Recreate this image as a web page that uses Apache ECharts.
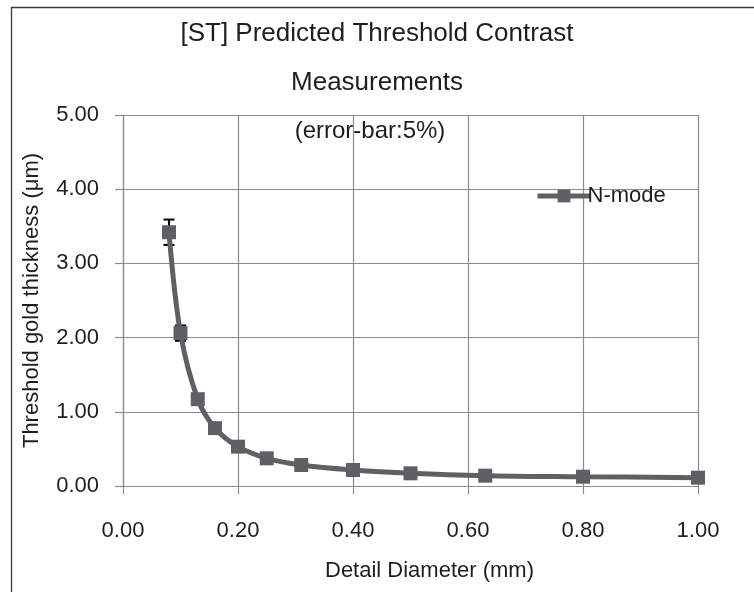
<!DOCTYPE html>
<html>
<head>
<meta charset="utf-8">
<script src="https://cdn.jsdelivr.net/npm/echarts@6/dist/echarts.min.js"></script>
<style>
html,body{margin:0;padding:0;background:#fff;}
#chart{width:754px;height:592px;}
</style>
</head>
<body>
<div id="chart"></div>
<script>
// Data
const diameters = [0.08, 0.10, 0.13, 0.16, 0.20, 0.25, 0.31, 0.40, 0.50, 0.63, 0.80, 1.00];
const thickness = [3.42, 2.06, 1.17, 0.78, 0.53, 0.373, 0.283, 0.216, 0.171, 0.139, 0.125, 0.112];
const errorPct = 0.05; // "(error-bar:5%)"
const xTicks = { min: 0, max: 1, interval: 0.2 };
const yTicks = { min: 0, max: 5, interval: 1 };
const seriesName = 'N-mode';
const titleLines = ['[ST] Predicted Threshold Contrast', 'Measurements'];
const noteText = '(error-bar:5%)';
const xName = 'Detail Diameter (mm)';
const yName = 'Threshold gold thickness (\u03bcm)';

const FONT = '"Liberation Sans", Arial, sans-serif';
const TXT = '#1e1e1e';
const GRIDC = '#8c8c8c';
const LINEC = '#5f6066';

const lineData = diameters.map((d, i) => [d, thickness[i]]);
const errData = diameters.map((d, i) => [d, thickness[i] * (1 - errorPct), thickness[i] * (1 + errorPct)]);

const chart = echarts.init(document.getElementById('chart'), null, { renderer: 'canvas' });
chart.setOption({
  backgroundColor: '#fff',
  animation: false,
  title: {
    text: titleLines.join('\n'),
    left: 'center',
    top: 9,
    padding: 0,
    textStyle: { fontFamily: FONT, fontSize: 26, fontWeight: 'normal', color: TXT, lineHeight: 49 }
  },
  graphic: [
    { type: 'rect', shape: { x: 11.5, y: 7.5, width: 900, height: 700 }, style: { fill: 'none', stroke: '#3a3a3a', lineWidth: 1.3 }, z: -10 },
    { type: 'text', x: 370, y: 131, style: { text: noteText, font: '24px ' + FONT, fill: TXT, textAlign: 'center', textVerticalAlign: 'middle' }, z: 10 }
  ],
  legend: {
    left: 530, top: 180,
    itemWidth: 53, itemHeight: 16, itemGap: 10,
    lineStyle: { width: 5, color: LINEC },
    textStyle: { fontFamily: FONT, fontSize: 22, color: TXT, padding: [8, 0, 0, -8] },
    data: [{ name: seriesName }]
  },
  grid: { left: 123, top: 115, width: 575, height: 371, containLabel: false },
  xAxis: {
    type: 'value', min: xTicks.min, max: xTicks.max, interval: xTicks.interval,
    name: xName, nameLocation: 'middle', nameGap: 74,
    nameTextStyle: { fontFamily: FONT, fontSize: 22, color: TXT, padding: [0, 0, 0, 38] },
    axisLine: { show: true, lineStyle: { color: GRIDC, width: 1.2 } },
    axisTick: { show: true, length: 8, lineStyle: { color: GRIDC, width: 1.2 } },
    axisLabel: { margin: 34, fontFamily: FONT, fontSize: 22, color: TXT, formatter: v => v.toFixed(2) },
    splitLine: { show: true, lineStyle: { color: GRIDC, width: 1.2 } }
  },
  yAxis: {
    type: 'value', min: yTicks.min, max: yTicks.max, interval: yTicks.interval,
    name: yName, nameLocation: 'middle', nameGap: 80, nameRotate: 90,
    nameTextStyle: { fontFamily: FONT, fontSize: 22, color: TXT },
    axisLine: { show: true, lineStyle: { color: GRIDC, width: 1.2 } },
    axisTick: { show: true, length: 8, lineStyle: { color: GRIDC, width: 1.2 } },
    axisLabel: { margin: 24, fontFamily: FONT, fontSize: 22, color: TXT, formatter: v => v.toFixed(2) },
    splitLine: { show: true, lineStyle: { color: GRIDC, width: 1.2 } }
  },
  series: [
    {
      type: 'custom',
      name: 'err',
      z: 1,
      data: errData,
      encode: { x: 0, y: [1, 2] },
      renderItem: function (params, api) {
        const x = api.value(0);
        const lo = api.coord([x, api.value(1)]);
        const hi = api.coord([x, api.value(2)]);
        const hw = 5.5;
        const st = { stroke: '#000', lineWidth: 2, fill: 'none' };
        return {
          type: 'group',
          children: [
            { type: 'line', shape: { x1: lo[0], y1: lo[1], x2: hi[0], y2: hi[1] }, style: st },
            { type: 'line', shape: { x1: hi[0] - hw, y1: hi[1], x2: hi[0] + hw, y2: hi[1] }, style: st },
            { type: 'line', shape: { x1: lo[0] - hw, y1: lo[1], x2: lo[0] + hw, y2: lo[1] }, style: st }
          ]
        };
      }
    },
    {
      type: 'line',
      name: seriesName,
      z: 3,
      data: lineData,
      smooth: 0.35,
      symbol: 'rect',
      symbolSize: 14,
      showAllSymbol: true,
      lineStyle: { color: LINEC, width: 5 },
      itemStyle: { color: LINEC }
    }
  ]
});
</script>
</body>
</html>
